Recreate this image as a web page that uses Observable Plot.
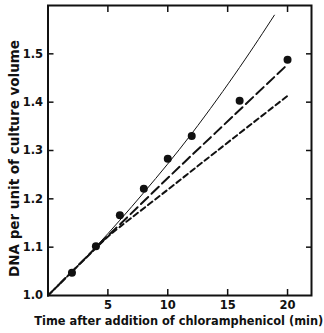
<!DOCTYPE html>
<html>
<head>
<meta charset="utf-8">
<script src="https://cdn.jsdelivr.net/npm/d3@7"></script>
<script src="https://cdn.jsdelivr.net/npm/@observablehq/plot@0.6"></script>
<style>
  html, body { margin: 0; padding: 0; background: #fff; }
  #chart svg { display: block; }
</style>
</head>
<body>
<div id="chart"></div>
<script>
// Measured points
const times = [2, 4, 6, 8, 10, 12, 16, 20];
const dna = [1.047, 1.102, 1.166, 1.221, 1.283, 1.330, 1.403, 1.488];

// Solid (exponential) curve
const solidT = [0, 4, 8, 12, 16, 18.9];
const solidV = [1.0, 1.101, 1.213, 1.335, 1.472, 1.580];

// Long-dash line
const longT = [0, 4, 6, 10, 14, 20];
const longV = [1.0, 1.099, 1.147, 1.243, 1.337, 1.478];

// Short-dash line
const shortT = [0, 4, 6, 10, 14, 20];
const shortV = [1.0, 1.098, 1.142, 1.219, 1.297, 1.413];

const xTicks = [5, 10, 15, 20];
const yTicks = [1.0, 1.1, 1.2, 1.3, 1.4, 1.5];
const yInnerTicks = [1.1, 1.2, 1.3, 1.4, 1.5];

const xTitle = "Time after addition of chloramphenicol (min)";
const yTitle = "DNA per unit of culture volume";

const pts = times.map((t, i) => ({t, v: dna[i]}));
const solid = solidT.map((t, i) => ({t, v: solidV[i]}));
const longD = longT.map((t, i) => ({t, v: longV[i]}));
const shortD = shortT.map((t, i) => ({t, v: shortV[i]}));

const font = "'DejaVu Sans', sans-serif";
const blank = () => "";

const chart = Plot.plot({
  width: 324,
  height: 333,
  marginLeft: 47.5,
  marginRight: 13,
  marginTop: 5,
  marginBottom: 38,
  style: {fontFamily: font, fontWeight: "bold", fontSize: "11px", color: "#111", background: "#fff"},
  x: {domain: [0, 22]},
  y: {domain: [1.0, 1.6]},
  marks: [
    // labels
    Plot.axisX({ticks: xTicks, anchor: "bottom", tickSize: 0, tickPadding: 5, tickFormat: d => String(d), label: null, fontSize: 11.5}),
    Plot.axisY({ticks: yTicks, anchor: "left", tickSize: 0, tickPadding: 5, tickFormat: d3.format(".1f"), label: null, fontSize: 11.5}),
    // inward tick marks
    Plot.axisX({ticks: xTicks, anchor: "bottom", tickSize: 6, dy: -6, strokeWidth: 1.5, tickFormat: blank, label: null}),
    Plot.axisX({ticks: xTicks, anchor: "top", tickSize: 6, dy: 6, strokeWidth: 1.5, tickFormat: blank, label: null}),
    Plot.axisY({ticks: yInnerTicks, anchor: "left", tickSize: 6, dx: 6, strokeWidth: 1.5, tickFormat: blank, label: null}),
    Plot.axisY({ticks: yInnerTicks, anchor: "right", tickSize: 6, dx: -6, strokeWidth: 1.5, tickFormat: blank, label: null}),
    Plot.frame({stroke: "#111", strokeWidth: 2}),
    // curves
    Plot.line(solid, {x: "t", y: "v", curve: "natural", stroke: "#111", strokeWidth: 1}),
    Plot.line(longD, {x: "t", y: "v", curve: "natural", stroke: "#111", strokeWidth: 2, strokeDasharray: "10,4.5"}),
    Plot.line(shortD, {x: "t", y: "v", curve: "natural", stroke: "#111", strokeWidth: 2, strokeDasharray: "5.5,3.5"}),
    Plot.dot(pts, {x: "t", y: "v", r: 4, fill: "#111", stroke: "none"}),
    // titles
    Plot.text([xTitle], {frameAnchor: "bottom", textAnchor: "middle", lineAnchor: "middle", dx: -1, dy: 26, text: d => d, fontSize: 11.4, fontWeight: "bold", fill: "#111"}),
    Plot.text([yTitle], {frameAnchor: "left", textAnchor: "middle", lineAnchor: "middle", dx: -33, dy: 8, rotate: -90, text: d => d, fontSize: 13.5, fontWeight: "bold", fill: "#111"})
  ]
});
document.getElementById("chart").appendChild(chart);
</script>
</body>
</html>
